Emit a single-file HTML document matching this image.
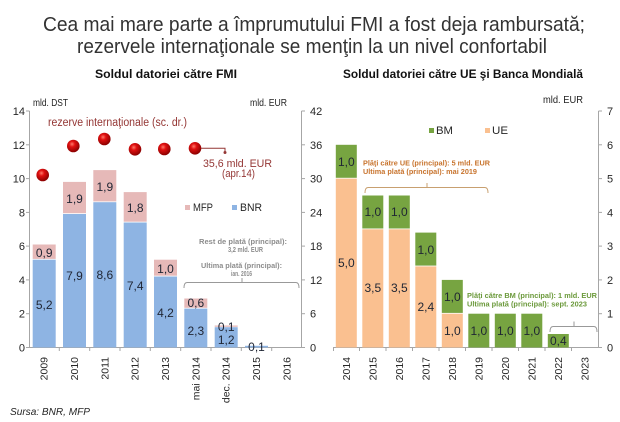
<!DOCTYPE html>
<html><head><meta charset="utf-8"><style>
html,body{margin:0;padding:0;background:#fff;}
svg{display:block;font-family:"Liberation Sans",Arial,sans-serif;}
</style></head><body>
<svg width="620" height="422" viewBox="0 0 620 422" xmlns="http://www.w3.org/2000/svg">
<defs>
<radialGradient id="dot" cx="0.4" cy="0.35" r="0.65">
<stop offset="0" stop-color="#ff7a6a"/>
<stop offset="0.35" stop-color="#e01010"/>
<stop offset="1" stop-color="#8a0000"/>
</radialGradient>
</defs>
<rect width="620" height="422" fill="#fff"/>
<!-- Title -->
<text x="43" y="31" font-size="20" fill="#333" textLength="542" lengthAdjust="spacingAndGlyphs">Cea mai mare parte a împrumutului FMI a fost deja rambursată;</text>
<text x="77" y="53" font-size="20" fill="#333" textLength="470" lengthAdjust="spacingAndGlyphs">rezervele internaţionale se menţin la un nivel confortabil</text>
<text x="95" y="78" font-size="12" font-weight="bold" fill="#111" textLength="142" lengthAdjust="spacingAndGlyphs">Soldul datoriei către FMI</text>
<text x="343" y="78" font-size="12" font-weight="bold" fill="#111" textLength="240" lengthAdjust="spacingAndGlyphs">Soldul datoriei către UE şi Banca Mondială</text>

<!-- units -->
<text x="33" y="106" font-size="10" fill="#222" textLength="35" lengthAdjust="spacingAndGlyphs">mld. DST</text>
<text x="250" y="106" font-size="10" fill="#222" textLength="37" lengthAdjust="spacingAndGlyphs">mld. EUR</text>
<text x="543" y="103" font-size="10" fill="#222" textLength="40" lengthAdjust="spacingAndGlyphs">mld. EUR</text>

<!-- LEFT CHART axes -->
<g stroke="#a6a6a6" stroke-width="1" fill="none">
<line x1="29.5" y1="111" x2="29.5" y2="348"/>
<line x1="301.5" y1="111" x2="301.5" y2="348"/>
<line x1="29" y1="347.5" x2="302" y2="347.5"/>
<line x1="26" y1="347.5" x2="29.5" y2="347.5"/><line x1="26" y1="313.7" x2="29.5" y2="313.7"/><line x1="26" y1="279.9" x2="29.5" y2="279.9"/><line x1="26" y1="246.1" x2="29.5" y2="246.1"/><line x1="26" y1="212.4" x2="29.5" y2="212.4"/><line x1="26" y1="178.6" x2="29.5" y2="178.6"/><line x1="26" y1="144.8" x2="29.5" y2="144.8"/><line x1="26" y1="111" x2="29.5" y2="111"/>
<line x1="301.5" y1="347.5" x2="305" y2="347.5"/><line x1="301.5" y1="313.7" x2="305" y2="313.7"/><line x1="301.5" y1="279.9" x2="305" y2="279.9"/><line x1="301.5" y1="246.1" x2="305" y2="246.1"/><line x1="301.5" y1="212.4" x2="305" y2="212.4"/><line x1="301.5" y1="178.6" x2="305" y2="178.6"/><line x1="301.5" y1="144.8" x2="305" y2="144.8"/><line x1="301.5" y1="111" x2="305" y2="111"/>
<line x1="59.3" y1="347.5" x2="59.3" y2="351"/><line x1="89.7" y1="347.5" x2="89.7" y2="351"/><line x1="120" y1="347.5" x2="120" y2="351"/><line x1="150.3" y1="347.5" x2="150.3" y2="351"/><line x1="180.7" y1="347.5" x2="180.7" y2="351"/><line x1="211" y1="347.5" x2="211" y2="351"/><line x1="241.3" y1="347.5" x2="241.3" y2="351"/><line x1="271.7" y1="347.5" x2="271.7" y2="351"/>
</g>
<g font-size="11" fill="#262626" text-anchor="end">
<text x="25" y="351.5">0</text><text x="25" y="317.7">2</text><text x="25" y="283.9">4</text><text x="25" y="250.1">6</text><text x="25" y="216.4">8</text><text x="25" y="182.6">10</text><text x="25" y="148.8">12</text><text x="25" y="115">14</text>
</g>
<g font-size="11" fill="#262626">
<text x="310" y="351.5">0</text><text x="310" y="317.7">6</text><text x="310" y="283.9">12</text><text x="310" y="250.1">18</text><text x="310" y="216.4">24</text><text x="310" y="182.6">30</text><text x="310" y="148.8">36</text><text x="310" y="115">42</text>
</g>

<!-- LEFT bars: BNR blue, MFP pink -->
<g fill="#8eb4e3">
<rect x="32.7" y="259.7" width="23" height="87.8"/>
<rect x="63" y="214" width="23" height="133.5"/>
<rect x="93.3" y="202.2" width="23" height="145.3"/>
<rect x="123.7" y="222.5" width="23" height="125"/>
<rect x="154" y="276.5" width="23" height="71"/>
<rect x="184.3" y="308.6" width="23" height="38.9"/>
<rect x="214.7" y="327.2" width="23" height="20.3"/>
<rect x="245" y="345.8" width="23" height="1.7"/>
</g>
<g fill="#e6b9b8">
<rect x="32.7" y="244.5" width="23" height="14.4"/>
<rect x="63" y="181.9" width="23" height="31.3"/>
<rect x="93.3" y="170.1" width="23" height="31.3"/>
<rect x="123.7" y="192.1" width="23" height="29.6"/>
<rect x="154" y="259.7" width="23" height="16"/>
<rect x="184.3" y="298.5" width="23" height="9.3"/>
<rect x="214.7" y="325.5" width="23" height="1.3"/>
</g>
<g font-size="12" fill="#1f2533" text-anchor="middle">
<text x="44.2" y="257">0,9</text><text x="44.2" y="309">5,2</text>
<text x="74.5" y="203">1,9</text><text x="74.5" y="280">7,9</text>
<text x="104.8" y="191">1,9</text><text x="104.8" y="279">8,6</text>
<text x="135.2" y="212">1,8</text><text x="135.2" y="290">7,4</text>
<text x="165.5" y="273">1,0</text><text x="165.5" y="317">4,2</text>
<text x="195.8" y="307">0,6</text><text x="195.8" y="335">2,3</text>
<text x="226.2" y="331">0,1</text><text x="226.2" y="344">1,2</text>
<text x="256.5" y="351">0,1</text>
</g>

<!-- reserves dots -->
<text x="48" y="126" font-size="11.5" fill="#943634" textLength="139" lengthAdjust="spacingAndGlyphs">rezerve internaţionale (sc. dr.)</text>
<g fill="url(#dot)">
<circle cx="42.7" cy="175" r="6.3"/>
<circle cx="73.3" cy="146" r="6.3"/>
<circle cx="104.3" cy="139" r="6.3"/>
<circle cx="135" cy="149.3" r="6.3"/>
<circle cx="164.3" cy="149" r="6.3"/>
<circle cx="195" cy="148.3" r="6.3"/>
</g>
<polyline points="201,148.3 225,148.3 225,152" fill="none" stroke="#943634" stroke-width="1"/>
<circle cx="225" cy="152.5" r="1.5" fill="#943634"/>
<text x="203" y="167" font-size="11" fill="#943634" textLength="69" lengthAdjust="spacingAndGlyphs">35,6 mld. EUR</text>
<text x="222" y="177" font-size="11" fill="#943634" textLength="33" lengthAdjust="spacingAndGlyphs">(apr.14)</text>

<!-- left legend -->
<rect x="185" y="205" width="5" height="5" fill="#e6b9b8"/>
<text x="193" y="211" font-size="11" fill="#262626" textLength="20" lengthAdjust="spacingAndGlyphs">MFP</text>
<rect x="232" y="205" width="5" height="5" fill="#8eb4e3"/>
<text x="240" y="211" font-size="11" fill="#262626" textLength="22" lengthAdjust="spacingAndGlyphs">BNR</text>

<!-- left annotation -->
<g font-size="7.5" font-weight="bold" fill="#8c8c8c">
<text x="199" y="244" textLength="88" lengthAdjust="spacingAndGlyphs">Rest de plată (principal):</text>
<text x="228" y="252" textLength="35" lengthAdjust="spacingAndGlyphs">3,2 mld. EUR</text>
<text x="201" y="268" textLength="81" lengthAdjust="spacingAndGlyphs">Ultima plată (principal):</text>
<text x="231" y="276" textLength="21" lengthAdjust="spacingAndGlyphs">ian. 2016</text>
</g>
<path d="M184,288 Q184,282.5 187,282.5 L296,282.5 Q299,282.5 299,288 M242,282.5 L242,278" fill="none" stroke="#999" stroke-width="1"/>

<!-- left x labels -->
<g font-size="10.5" fill="#262626" text-anchor="end">
<text transform="translate(47.5,357) rotate(-90)">2009</text>
<text transform="translate(78,357) rotate(-90)">2010</text>
<text transform="translate(108.3,357) rotate(-90)">2011</text>
<text transform="translate(138.7,357) rotate(-90)">2012</text>
<text transform="translate(169,357) rotate(-90)">2013</text>
<text transform="translate(199.3,357) rotate(-90)">mai 2014</text>
<text transform="translate(229.7,357) rotate(-90)">dec. 2014</text>
<text transform="translate(260,357) rotate(-90)">2015</text>
<text transform="translate(290.3,357) rotate(-90)">2016</text>
</g>

<!-- RIGHT CHART axes -->
<g stroke="#a6a6a6" stroke-width="1" fill="none">
<line x1="333" y1="347.5" x2="598" y2="347.5"/>
<line x1="598.5" y1="111" x2="598.5" y2="348"/>
<line x1="598.5" y1="347.5" x2="602" y2="347.5"/><line x1="598.5" y1="313.7" x2="602" y2="313.7"/><line x1="598.5" y1="279.9" x2="602" y2="279.9"/><line x1="598.5" y1="246.1" x2="602" y2="246.1"/><line x1="598.5" y1="212.4" x2="602" y2="212.4"/><line x1="598.5" y1="178.6" x2="602" y2="178.6"/><line x1="598.5" y1="144.8" x2="602" y2="144.8"/><line x1="598.5" y1="111" x2="602" y2="111"/>
<line x1="333.5" y1="347.5" x2="333.5" y2="351"/><line x1="359.5" y1="347.5" x2="359.5" y2="351"/><line x1="386" y1="347.5" x2="386" y2="351"/><line x1="412.5" y1="347.5" x2="412.5" y2="351"/><line x1="439" y1="347.5" x2="439" y2="351"/><line x1="465.5" y1="347.5" x2="465.5" y2="351"/><line x1="492" y1="347.5" x2="492" y2="351"/><line x1="518.5" y1="347.5" x2="518.5" y2="351"/><line x1="545" y1="347.5" x2="545" y2="351"/><line x1="571.5" y1="347.5" x2="571.5" y2="351"/>
</g>
<g font-size="11" fill="#262626">
<text x="607" y="351.5">0</text><text x="607" y="317.7">1</text><text x="607" y="283.9">2</text><text x="607" y="250.1">3</text><text x="607" y="216.4">4</text><text x="607" y="182.6">5</text><text x="607" y="148.8">6</text><text x="607" y="115">7</text>
</g>

<!-- right bars UE peach, BM green -->
<g fill="#fac090">
<rect x="335.8" y="178.6" width="21" height="168.9"/>
<rect x="362.3" y="229.3" width="21" height="118.2"/>
<rect x="388.8" y="229.3" width="21" height="118.2"/>
<rect x="415.3" y="266.4" width="21" height="81.1"/>
<rect x="441.8" y="313.7" width="21" height="33.8"/>
</g>
<g fill="#77a441">
<rect x="335.8" y="144.8" width="21" height="33"/>
<rect x="362.3" y="195.5" width="21" height="33"/>
<rect x="388.8" y="195.5" width="21" height="33"/>
<rect x="415.3" y="232.6" width="21" height="33"/>
<rect x="441.8" y="279.9" width="21" height="33"/>
<rect x="468.3" y="313.7" width="21" height="33.8"/>
<rect x="494.8" y="313.7" width="21" height="33.8"/>
<rect x="521.3" y="313.7" width="21" height="33.8"/>
<rect x="547.8" y="334" width="21" height="13.5"/>
</g>
<g font-size="12" fill="#1f2533" text-anchor="middle">
<text x="346.3" y="166">1,0</text><text x="346.3" y="267">5,0</text>
<text x="372.8" y="216">1,0</text><text x="372.8" y="292">3,5</text>
<text x="399.3" y="216">1,0</text><text x="399.3" y="292">3,5</text>
<text x="425.8" y="254">1,0</text><text x="425.8" y="311">2,4</text>
<text x="452.3" y="301">1,0</text><text x="452.3" y="335">1,0</text>
<text x="478.8" y="335">1,0</text>
<text x="505.3" y="335">1,0</text>
<text x="531.8" y="335">1,0</text>
<text x="558.3" y="345">0,4</text>
</g>

<!-- right legend -->
<rect x="429" y="128" width="5" height="5" fill="#77a441"/>
<text x="436" y="134" font-size="11" fill="#262626" textLength="17" lengthAdjust="spacingAndGlyphs">BM</text>
<rect x="485" y="128" width="5" height="5" fill="#fac090"/>
<text x="492" y="134" font-size="11" fill="#262626" textLength="16" lengthAdjust="spacingAndGlyphs">UE</text>

<!-- right annotations -->
<g font-size="7.5" font-weight="bold" fill="#c8742e">
<text x="363" y="165.5" textLength="127" lengthAdjust="spacingAndGlyphs">Plăţi către UE (principal): 5 mld. EUR</text>
<text x="363" y="174" textLength="114" lengthAdjust="spacingAndGlyphs">Ultima plată (principal): mai 2019</text>
</g>
<path d="M365,193 Q365,187.5 368,187.5 L485,187.5 Q488,187.5 488,193 M427,187.5 L427,183" fill="none" stroke="#c8a070" stroke-width="1"/>
<g font-size="7.5" font-weight="bold" fill="#6c9a3c">
<text x="467" y="298" textLength="130" lengthAdjust="spacingAndGlyphs">Plăţi către BM (principal): 1 mld. EUR</text>
<text x="467" y="306.5" textLength="120" lengthAdjust="spacingAndGlyphs">Ultima plată (principal): sept. 2023</text>
</g>
<path d="M550,332 Q550,326.5 553,326.5 L594,326.5 Q597,326.5 597,332 M574,326.5 L574,321.5" fill="none" stroke="#999" stroke-width="1"/>

<!-- right x labels -->
<g font-size="10.5" fill="#262626" text-anchor="end">
<text transform="translate(350,357) rotate(-90)">2014</text>
<text transform="translate(376.5,357) rotate(-90)">2015</text>
<text transform="translate(403,357) rotate(-90)">2016</text>
<text transform="translate(429.5,357) rotate(-90)">2017</text>
<text transform="translate(456,357) rotate(-90)">2018</text>
<text transform="translate(482.5,357) rotate(-90)">2019</text>
<text transform="translate(509,357) rotate(-90)">2020</text>
<text transform="translate(535.5,357) rotate(-90)">2021</text>
<text transform="translate(562,357) rotate(-90)">2022</text>
<text transform="translate(588.5,357) rotate(-90)">2023</text>
</g>

<text x="10" y="415" font-size="10" font-style="italic" fill="#262626" textLength="80" lengthAdjust="spacingAndGlyphs">Sursa: BNR, MFP</text>
</svg>
</body></html>
